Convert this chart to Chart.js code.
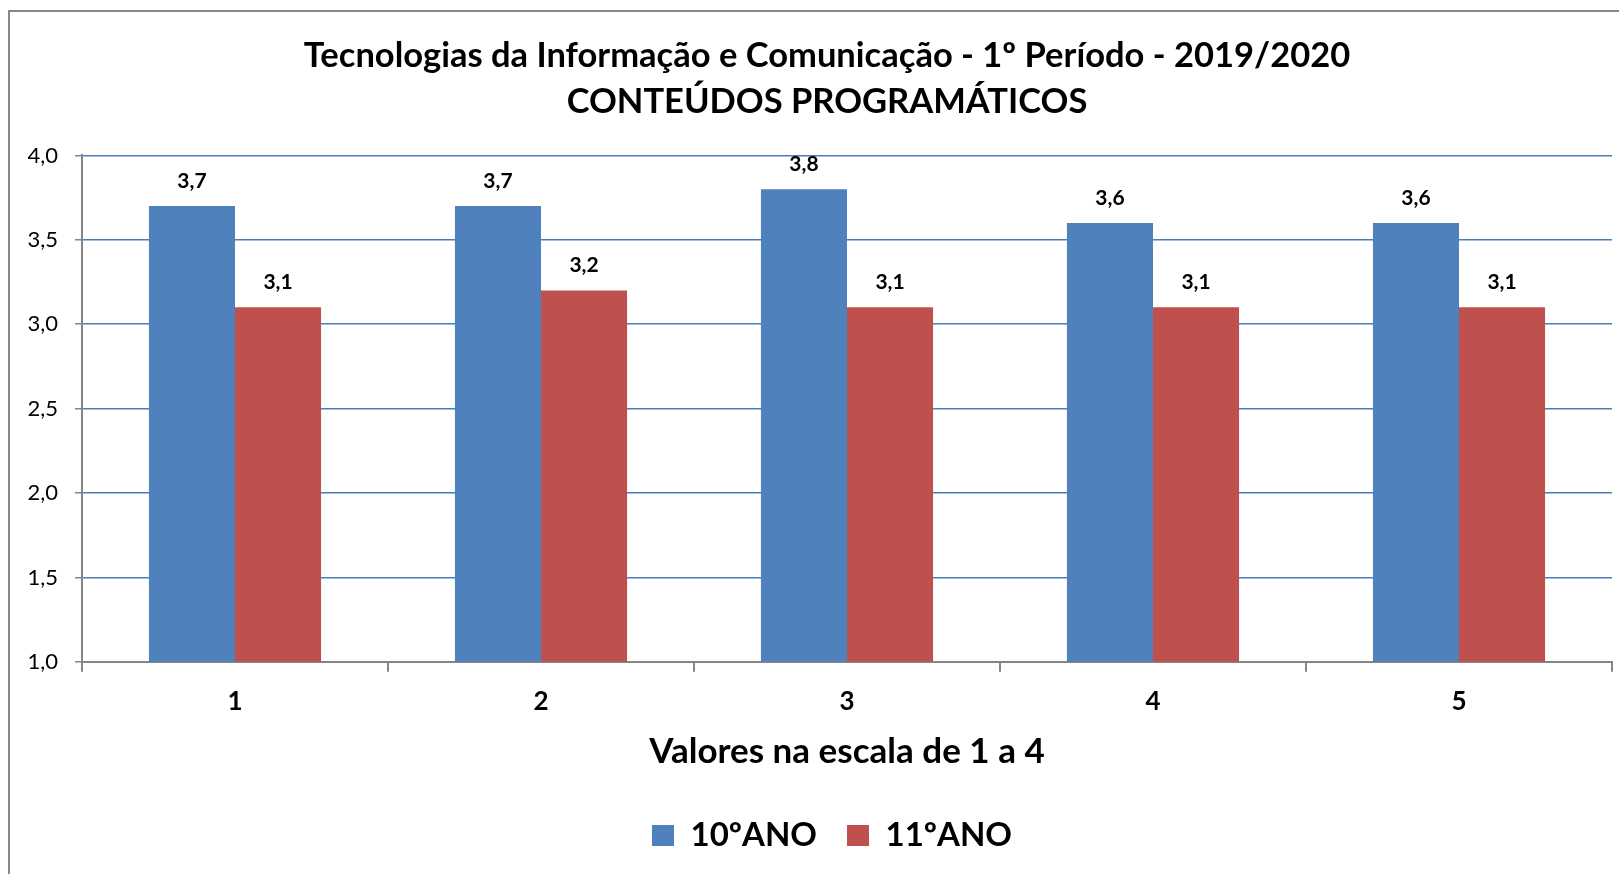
<!DOCTYPE html>
<html>
<head>
<meta charset="utf-8">
<script src="https://cdn.jsdelivr.net/npm/chart.js@4/dist/chart.umd.min.js"></script>
<style>
  html, body { margin: 0; padding: 0; background: #fff; overflow: hidden; }
  #wrap { position: relative; width: 1619px; height: 874px; }
  #frame { position: absolute; left: 8px; top: 10px; width: 1700px; height: 1000px; border: 2px solid #888888; box-sizing: border-box; pointer-events: none; }
  canvas { position: absolute; left: 0; top: 0; }
</style>
</head>
<body>
<div id="wrap">
  <canvas id="c" width="1619" height="874"></canvas>
  <div id="frame"></div>
</div>
<script>
const categories = ['1', '2', '3', '4', '5'];
const seriesNames = ['10ºANO', '11ºANO'];
const values10 = [3.7, 3.7, 3.8, 3.6, 3.6];
const values11 = [3.1, 3.2, 3.1, 3.1, 3.1];
const yTicks = [1.0, 1.5, 2.0, 2.5, 3.0, 3.5, 4.0];
const titleLines = ['Tecnologias da Informação e Comunicação - 1º Período - 2019/2020', 'CONTEÚDOS PROGRAMÁTICOS'];
const xAxisTitle = 'Valores na escala de 1 a 4';

const FONT = 'Lato, "Open Sans", sans-serif';
const fmt = v => v.toFixed(1).replace('.', ',');

const dataLabels = {
  id: 'dataLabels',
  afterDatasetsDraw(chart) {
    const ctx = chart.ctx;
    ctx.save();
    ctx.fillStyle = '#000';
    ctx.font = 'bold 21px ' + FONT;
    ctx.textAlign = 'center';
    ctx.textBaseline = 'middle';
    chart.data.datasets.forEach((ds, i) => {
      const meta = chart.getDatasetMeta(i);
      meta.data.forEach((el, j) => {
        ctx.fillText(fmt(ds.data[j]), el.x, el.y - 25);
      });
    });
    ctx.restore();
  }
};

// Nudge title and legend blocks to the right (the reference centres them slightly off the canvas middle)
const centreShift = {
  id: 'centreShift',
  afterLayout(chart) {
    const shift = (box, dx) => { if (box) { box.left += dx; box.right += dx; } };
    shift(chart.titleBlock, 16);
    shift(chart.legend, 21);
  }
};

new Chart(document.getElementById('c'), {
  type: 'bar',
  data: {
    labels: categories,
    datasets: [
      { label: seriesNames[0], data: values10, backgroundColor: '#4F81BD', borderWidth: 0, barPercentage: 1, categoryPercentage: 0.5625 },
      { label: seriesNames[1], data: values11, backgroundColor: '#C0504D', borderWidth: 0, barPercentage: 1, categoryPercentage: 0.5625 }
    ]
  },
  options: {
    responsive: false,
    animation: false,
    layout: { padding: { left: 10, right: 7, top: 0, bottom: 12 } },
    plugins: {
      title: {
        display: true,
        text: titleLines,
        color: '#000',
        font: { family: FONT, size: 34.5, weight: 'bold', lineHeight: 1.34 },
        padding: { top: 33, bottom: 30 }
      },
      legend: {
        position: 'bottom',
        labels: {
          color: '#000',
          font: { family: FONT, size: 33, weight: 'bold' },
          boxWidth: 22,
          boxHeight: 21,
          padding: 30
        }
      },
      tooltip: { enabled: false }
    },
    scales: {
      x: {
        offset: true,
        grid: { offset: true, drawOnChartArea: false, tickLength: 10, tickColor: '#868686', lineWidth: 2 },
        border: { color: '#868686', width: 2 },
        ticks: { color: '#000', font: { family: FONT, size: 26, weight: 'bold' }, padding: 14 },
        title: { display: true, text: xAxisTitle, color: '#000', font: { family: FONT, size: 35, weight: 'bold' }, padding: { top: 0, bottom: 16 } }
      },
      y: {
        min: 1, max: 4,
        afterBuildTicks(scale) { scale.ticks = yTicks.map(v => ({ value: v })); },
        afterFit(scale) { scale.width = 72; },
        grid: { color: '#4A7EBB', lineWidth: 1.5, tickLength: 7, tickColor: '#868686' },
        border: { color: '#868686', width: 2 },
        ticks: { color: '#000', font: { family: FONT, size: 22 }, padding: 17, callback: v => fmt(v) }
      }
    }
  },
  plugins: [dataLabels, centreShift]
});
</script>
</body>
</html>
